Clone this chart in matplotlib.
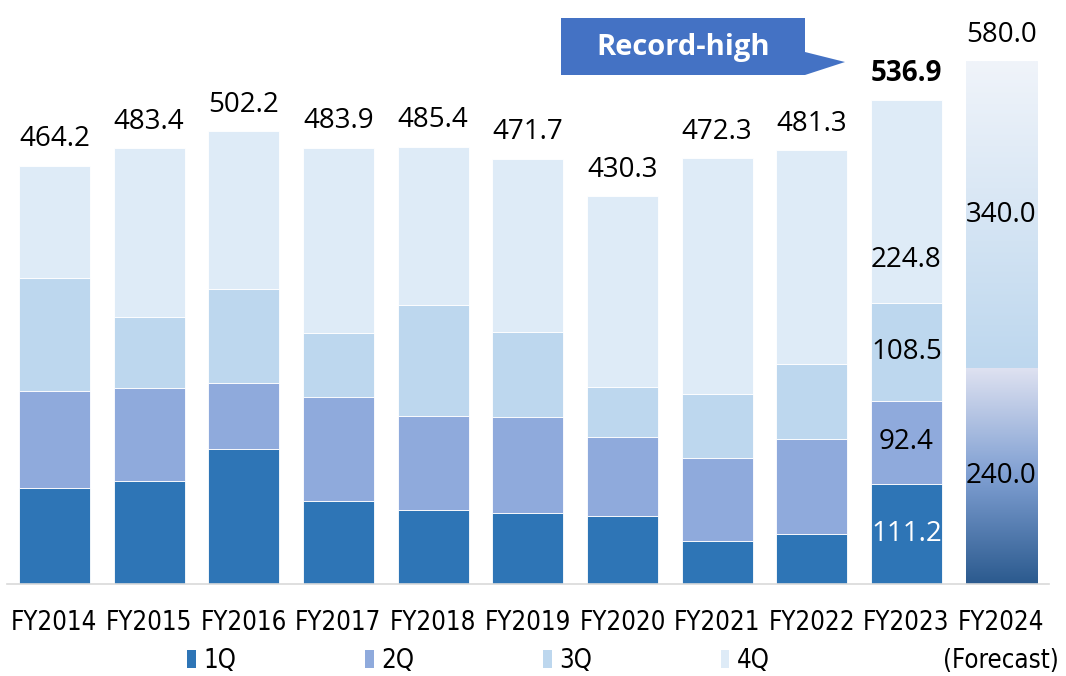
import numpy as np
import matplotlib
matplotlib.use("Agg")
import matplotlib.pyplot as plt
from matplotlib.patches import Patch, Polygon
from matplotlib.colors import LinearSegmentedColormap

# Quarterly sales by fiscal year (billion yen)
years = ["FY2014", "FY2015", "FY2016", "FY2017", "FY2018", "FY2019",
         "FY2020", "FY2021", "FY2022", "FY2023", "FY2024\n(Forecast)"]
q1 = [106.8, 114.5, 149.7, 92.0, 82.0, 79.1, 75.8, 48.0, 55.1, 111.2]
q2 = [107.2, 103.1, 73.5, 115.7, 104.6, 106.0, 87.5, 92.1, 105.7, 92.4]
q3 = [125.2, 78.4, 103.9, 70.6, 122.7, 95.0, 55.5, 70.9, 83.1, 108.5]
q4 = [125.0, 187.4, 175.1, 205.6, 176.1, 191.6, 211.5, 261.3, 237.4, 224.8]
totals = [464.2, 483.4, 502.2, 483.9, 485.4, 471.7, 430.3, 472.3, 481.3, 536.9]

# FY2024 forecast: first half / second half
fc_h1 = 240.0
fc_h2 = 340.0
fc_total = 580.0

quarter_names = ["1Q", "2Q", "3Q", "4Q"]
quarter_colors = ["#2e75b6", "#8faadc", "#bdd7ee", "#deebf7"]

num_font = "Open Sans"
cat_font = "DejaVu Sans"
num_size = 20

fig = plt.figure(figsize=(10.66, 6.76), dpi=100)
ax = fig.add_axes([0.0066, 0.136, 0.977, 0.80])

x = np.arange(len(years))
xa = x[:len(q1)]
width = 0.75

bottom = np.zeros(len(q1))
for vals, col in zip([q1, q2, q3, q4], quarter_colors):
    ax.bar(xa, vals, width, bottom=bottom, color=col, edgecolor="white", linewidth=0.6)
    bottom += np.array(vals)

# forecast bar with gradient fills
xf = x[-1]
low_cmap = LinearSegmentedColormap.from_list("low", ["#2b5a8e", "#7f9fd2", "#dfe2f1"])
up_cmap = LinearSegmentedColormap.from_list("up", ["#bdd7ee", "#f0f4fa"])
for b, h, cmap in [(0, fc_h1, low_cmap), (fc_h1, fc_h2, up_cmap)]:
    bar = ax.bar(xf, h, width, bottom=b, color="none", edgecolor="none")[0]
    grad = np.linspace(0, 1, 256).reshape(-1, 1)
    im = ax.imshow(grad, cmap=cmap, origin="lower", aspect="auto",
                   extent=[xf - width / 2, xf + width / 2, b, b + h], zorder=1)
    im.set_clip_path(bar)

ax.set_xlim(-0.5, len(years) - 0.5)
ax.set_ylim(0, 600)

# total labels
for i, t in enumerate(totals):
    weight = "bold" if i == len(totals) - 1 else "normal"
    ax.annotate(f"{t:.1f}", (xa[i], t), xytext=(0, 14), textcoords="offset points",
                ha="center", va="baseline", fontsize=num_size, family=num_font,
                fontweight=weight, annotation_clip=False)
ax.annotate(f"{fc_total:.1f}", (xf, fc_total), xytext=(0, 14), textcoords="offset points",
            ha="center", va="baseline", fontsize=num_size, family=num_font,
            annotation_clip=False)

# segment labels for FY2023
i = len(q1) - 1
segs = [q1[i], q2[i], q3[i], q4[i]]
b = 0
for k, v in enumerate(segs):
    frac = 0.21 if k == 3 else 0.5
    ax.text(xa[i], b + v * frac, f"{v:.1f}", ha="center", va="center", fontsize=num_size,
            family=num_font, color="white" if k == 0 else "black")
    b += v
ax.text(xf, fc_h1 / 2, f"{fc_h1:.1f}", ha="center", va="center", fontsize=num_size,
        family=num_font)
ax.text(xf, fc_h1 + fc_h2 / 2, f"{fc_h2:.1f}", ha="center", va="center", fontsize=num_size,
        family=num_font)

# axes styling
for s in ["top", "right", "left"]:
    ax.spines[s].set_visible(False)
ax.spines["bottom"].set_color("#d9d9d9")
ax.spines["bottom"].set_linewidth(1.2)
ax.set_yticks([])
ax.set_xticks(x)
ax.set_xticklabels(years, fontsize=18.5, family=cat_font, fontstretch="condensed",
                   linespacing=1.6)
ax.tick_params(axis="x", length=0, pad=19)

# "Record-high" callout
W, H = 1066, 676
def px(pts):
    return [(a / W, 1 - c / H) for a, c in pts]
callout = Polygon(px([(561, 18), (805, 18), (805, 52), (845, 62), (805, 75), (561, 75)]),
                  closed=True, transform=fig.transFigure, facecolor="#4472c4", edgecolor="none")
fig.patches.append(callout)
fig.text(683 / W, 1 - 47 / H, "Record-high", ha="center", va="center", fontsize=21,
         fontweight="bold", color="white", family=num_font)

# legend
handles = [Patch(facecolor=c, edgecolor="none") for c in quarter_colors]
fig.legend(handles, quarter_names, loc="center", bbox_to_anchor=(0.449, 0.022), ncol=4,
           frameon=False, prop={"family": cat_font, "size": 18.5, "stretch": "condensed"},
           handlelength=0.34, handleheight=0.7, handletextpad=0.3, columnspacing=5.0,
           borderaxespad=0)

fig.savefig("out.png", dpi=100)
